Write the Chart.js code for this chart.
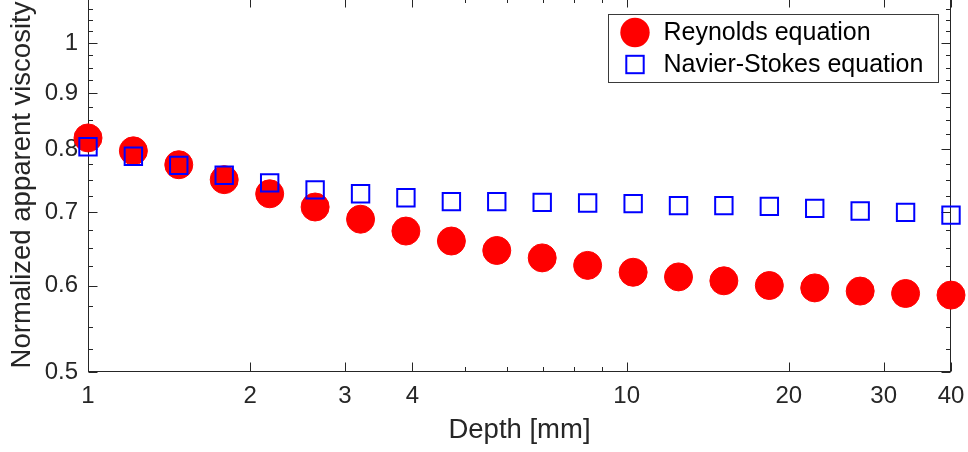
<!DOCTYPE html>
<html>
<head>
<meta charset="utf-8">
<script src="https://cdn.jsdelivr.net/npm/chart.js@4/dist/chart.umd.min.js"></script>
<style>
  html, body { margin: 0; padding: 0; background: #fff; overflow: hidden; width: 968px; height: 452px; }
  #wrap { position: absolute; left: 0; top: -17px; width: 968px; height: 469px; }
  canvas { display: block; }
</style>
</head>
<body>
<div id="wrap"><canvas id="c" width="968" height="469"></canvas></div>
<script>
// ---- data ----
const depthMm = [1, 1.214, 1.474, 1.790, 2.174, 2.640, 3.206, 3.892, 4.727, 5.739,
                 6.969, 8.463, 10.28, 12.48, 15.15, 18.40, 22.34, 27.13, 32.94, 40];
const reynoldsEq = [0.819, 0.797, 0.774, 0.750, 0.728, 0.708, 0.690, 0.673, 0.659, 0.646,
                    0.636, 0.626, 0.617, 0.611, 0.606, 0.600, 0.597, 0.593, 0.590, 0.588];
const navierStokesEq = [0.804, 0.788, 0.773, 0.757, 0.745, 0.734, 0.728, 0.722, 0.716, 0.716,
                        0.715, 0.714, 0.713, 0.710, 0.710, 0.709, 0.706, 0.702, 0.700, 0.696];
const seriesNames = ['Reynolds equation', 'Navier-Stokes equation'];
const xTickValues = [1, 2, 3, 4, 10, 20, 30, 40];
const xTickLabels = ['1', '2', '3', '4', '10', '20', '30', '40'];
const xMinorTicks = [5, 6, 7, 8, 9];
const yTickValues = [0.5, 0.6, 0.7, 0.8, 0.9, 1];
const yTickLabels = ['0.5', '0.6', '0.7', '0.8', '0.9', '1'];
const yMinorTicks = [0.525, 0.55, 0.575, 0.625, 0.65, 0.675, 0.725, 0.75, 0.775,
                     0.825, 0.85, 0.875, 0.925, 0.95, 0.975, 1.025, 1.05, 1.075];
const xTitle = 'Depth [mm]';
const yTitle = 'Normalized apparent viscosity';

const FONT = '"Liberation Sans", Arial, Helvetica, sans-serif';
const AXIS_COLOR = '#262626';

const boxPlugin = {
  id: 'matlabBox',
  beforeDatasetsDraw(chart) {
    const { ctx, chartArea: a, scales: { x, y } } = chart;
    const L = Math.round(a.left) + 0.5, R = Math.round(a.right) - 0.5;
    const T = Math.round(a.top) + 0.5, B = Math.round(a.bottom) - 0.5;
    ctx.save();
    ctx.strokeStyle = AXIS_COLOR;
    ctx.lineWidth = 1;
    ctx.strokeRect(L, T, R - L, B - T);
    ctx.beginPath();
    const major = 9, minor = 4.5;
    const xt = (v, len) => {
      const p = Math.round(x.getPixelForValue(v)) + 0.5;
      ctx.moveTo(p, B); ctx.lineTo(p, B - len);
      ctx.moveTo(p, T); ctx.lineTo(p, T + len);
    };
    const yt = (v, len) => {
      const p = Math.round(y.getPixelForValue(v)) + 0.5;
      ctx.moveTo(L, p); ctx.lineTo(L + len, p);
      ctx.moveTo(R, p); ctx.lineTo(R - len, p);
    };
    xTickValues.forEach(v => xt(v, major));
    xMinorTicks.forEach(v => xt(v, minor));
    yTickValues.forEach(v => yt(v, major));
    yMinorTicks.forEach(v => yt(v, minor));
    ctx.stroke();
    ctx.restore();
  },
  afterDraw(chart) {
    const { ctx, chartArea: a } = chart;
    const ds = chart.data.datasets;
    const bx = Math.round(a.right - 13.5) + 0.5 - 330, by = Math.round(a.top + 16) + 0.5;
    ctx.save();
    ctx.fillStyle = '#ffffff';
    ctx.fillRect(bx, by, 330, 68);
    ctx.strokeStyle = '#3a3a3a';
    ctx.lineWidth = 1;
    ctx.strokeRect(bx, by, 330, 68);
    const mx = bx + 26.5;
    const rows = [by + 18, by + 50];
    ctx.beginPath();
    ctx.fillStyle = ds[1].pointBackgroundColor;
    ctx.arc(mx, rows[0], 14.7, 0, Math.PI * 2);
    ctx.fill();
    ctx.strokeStyle = ds[0].pointBorderColor;
    ctx.lineWidth = 2;
    ctx.strokeRect(mx - 8.7, rows[1] - 8.7, 17.4, 17.4);
    ctx.fillStyle = '#000000';
    ctx.font = '25px ' + FONT;
    ctx.textBaseline = 'middle';
    ctx.textAlign = 'left';
    ctx.fillText(ds[1].label, bx + 55, rows[0] + 1);
    ctx.fillText(ds[0].label, bx + 55, rows[1] + 1);
    ctx.restore();
  }
};

const toPoints = (xs, ys) => xs.map((v, i) => ({ x: v, y: ys[i] }));
const zeroPad = (scale) => { scale.paddingTop = 0; scale.paddingBottom = 0; scale.paddingLeft = 0; scale.paddingRight = 0; };

new Chart(document.getElementById('c'), {
  type: 'scatter',
  data: {
    datasets: [
      {
        label: seriesNames[1],
        data: toPoints(depthMm, navierStokesEq),
        pointStyle: 'rect',
        pointRadius: 12.3,
        pointBorderWidth: 2,
        pointBackgroundColor: 'rgba(0,0,0,0)',
        pointBorderColor: '#0000ff',
        backgroundColor: 'rgba(0,0,0,0)',
        borderColor: '#0000ff',
        clip: false,
        order: 0
      },
      {
        label: seriesNames[0],
        data: toPoints(depthMm, reynoldsEq),
        pointStyle: 'circle',
        pointRadius: 14,
        pointBorderWidth: 1,
        pointBackgroundColor: '#ff0000',
        pointBorderColor: '#ff0000',
        backgroundColor: '#ff0000',
        borderColor: '#ff0000',
        clip: false,
        order: 1
      }
    ]
  },
  options: {
    responsive: false,
    devicePixelRatio: 1,
    animation: false,
    events: [],
    layout: { padding: { top: 15, right: 17, left: 0, bottom: 0 } },
    plugins: { legend: { display: false }, tooltip: { enabled: false } },
    scales: {
      x: {
        type: 'logarithmic',
        min: 1, max: 40,
        grid: { display: false, drawTicks: false },
        border: { display: false },
        afterBuildTicks(scale) { scale.ticks = xTickValues.map(v => ({ value: v })); },
        afterFit(scale) { scale.height = 80; zeroPad(scale); },
        ticks: {
          autoSkip: false, maxRotation: 0, minRotation: 0, padding: 10,
          color: AXIS_COLOR, font: { family: FONT, size: 24 },
          callback(v) { const i = xTickValues.indexOf(v); return i >= 0 ? xTickLabels[i] : ''; }
        },
        title: {
          display: true, text: xTitle, color: AXIS_COLOR,
          font: { family: FONT, size: 27.5 }, padding: { top: 0, bottom: 5 }
        }
      },
      y: {
        type: 'logarithmic',
        min: 0.5, max: 1.1,
        grid: { display: false, drawTicks: false },
        border: { display: false },
        afterBuildTicks(scale) { scale.ticks = yTickValues.map(v => ({ value: v })); },
        afterFit(scale) { scale.width = 88; zeroPad(scale); },
        ticks: {
          autoSkip: false, padding: 10,
          color: AXIS_COLOR, font: { family: FONT, size: 24 },
          callback(v) { const i = yTickValues.indexOf(v); return i >= 0 ? yTickLabels[i] : ''; }
        },
        title: {
          display: true, text: yTitle, color: AXIS_COLOR,
          font: { family: FONT, size: 27.5 }, padding: { top: 6, bottom: 0 }
        }
      }
    }
  },
  plugins: [boxPlugin]
});
</script>
</body>
</html>
